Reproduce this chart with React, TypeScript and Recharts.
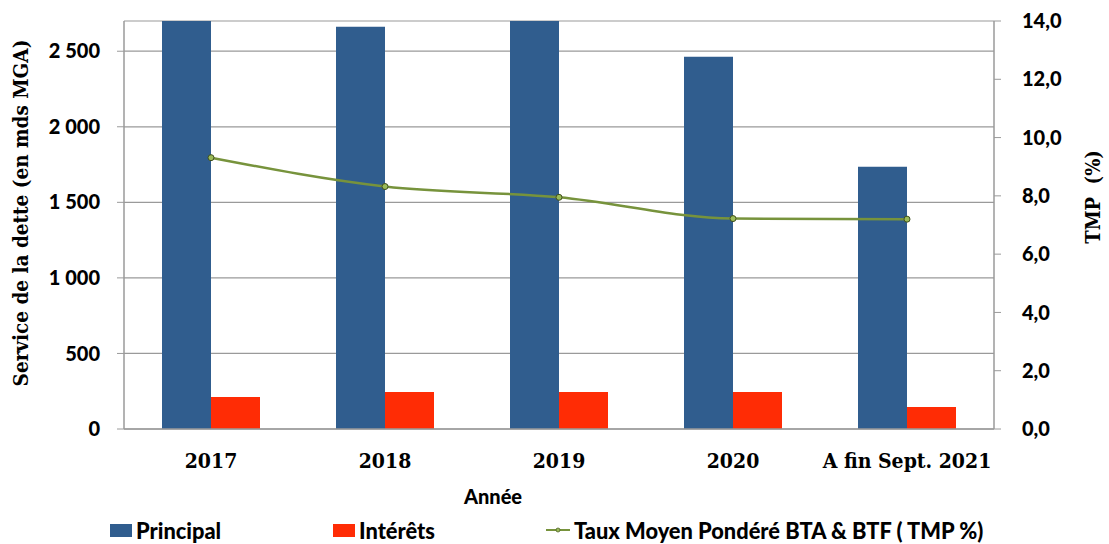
import React from 'react'
import { ComposedChart, Bar, Line, XAxis, YAxis, CartesianGrid, Legend, Label } from 'recharts'

const annees = ['2017', '2018', '2019', '2020', 'A fin Sept. 2021']
const principal = [2780, 2662, 2750, 2464, 1735]
const interets = [212, 245, 245, 245, 146]
const tmp = [9.31, 8.32, 7.95, 7.22, 7.2]
const ticksGauche = [0, 500, 1000, 1500, 2000, 2500]
const ticksDroite = [0, 2, 4, 6, 8, 10, 12, 14]

const data = annees.map((annee, i) => ({
  annee,
  principal: principal[i],
  interets: interets[i],
  tmp: tmp[i],
}))

const BLEU = '#305D8E'
const ROUGE = '#FF2C05'
const VERT = '#77933C'
const GRIS = '#9A9A9A'
const SANS = 'Lato, "Open Sans", sans-serif'
const SERIF = '"DejaVu Serif Condensed", "DejaVu Serif", serif'

const fmtGauche = (v: number) => (v >= 1000 ? `${Math.floor(v / 1000)} ${String(v % 1000).padStart(3, '0')}` : String(v))
const fmtDroite = (v: number) => v.toFixed(1).replace('.', ',')

function Legende() {
  const item = (left: number, icone: React.ReactNode, texte: string) => (
    <div style={{ position: 'absolute', left, top: 0, display: 'flex', alignItems: 'center', height: 28 }}>
      {icone}
      <span style={{ fontFamily: SANS, fontWeight: 900, fontSize: 21.8, color: '#000', marginLeft: 4 }}>{texte}</span>
    </div>
  )
  return (
    <div style={{ position: 'relative', width: 1109, height: 28 }}>
      {item(110, <div style={{ width: 22, height: 13, background: BLEU }} />, 'Principal')}
      {item(333, <div style={{ width: 22, height: 13, background: ROUGE }} />, 'Intérêts')}
      {item(
        546,
        <svg width={24} height={10}>
          <line x1={0} y1={5} x2={24} y2={5} stroke={VERT} strokeWidth={2} />
          <circle cx={12} cy={5} r={2} fill="#9BBB59" stroke="#4F6228" strokeWidth={0.8} />
        </svg>,
        'Taux Moyen Pondéré BTA & BTF ( TMP %)'
      )}
    </div>
  )
}

export default function App() {
  return (
    <div style={{ position: 'absolute', left: 0, top: 0, background: '#fff' }}>
      <ComposedChart
        width={1109}
        height={544}
        data={data}
        margin={{ top: 21, right: 0, left: 0, bottom: 0 }}
        barGap={0}
        barSize={49}
      >
        <CartesianGrid vertical={false} stroke={GRIS} strokeWidth={1.2} yAxisId="gauche" />
        <XAxis
          dataKey="annee"
          height={87}
          tickLine={false}
          axisLine={{ stroke: GRIS, strokeWidth: 1.5 }}
          tickMargin={18}
          tick={{ fontFamily: SERIF, fontWeight: 700, fontSize: 21, fill: '#000' }}
          interval={0}
        >
          <Label
            content={({ viewBox }: any) => (
              <text
                x={viewBox.x + viewBox.width / 2 - 66}
                y={viewBox.y + 75}
                textAnchor="middle"
                fontFamily={SANS}
                fontWeight={900}
                fontSize={20}
                fill="#000"
              >
                Année
              </text>
            )}
          />
        </XAxis>
        <YAxis
          yAxisId="gauche"
          width={124}
          domain={[0, 2700]}
          allowDataOverflow
          ticks={ticksGauche}
          tickFormatter={fmtGauche}
          tickSize={7}
          tickMargin={17}
          tickLine={{ stroke: GRIS }}
          axisLine={{ stroke: GRIS, strokeWidth: 1.5 }}
          tick={{ fontFamily: SANS, fontWeight: 900, fontSize: 20, fill: '#000' }}
        >
          <Label
            content={({ viewBox }: any) => {
              const cx = 21
              const cy = viewBox.y + viewBox.height / 2 - 12
              return (
                <text
                  x={cx}
                  y={cy}
                  transform={`rotate(-90 ${cx} ${cy})`}
                  textAnchor="middle"
                  dominantBaseline="central"
                  fontFamily={SERIF}
                  fontWeight={700}
                  fontSize={20.5}
                  fill="#000"
                >
                  Service de la dette (en mds MGA)
                </text>
              )
            }}
          />
        </YAxis>
        <YAxis
          yAxisId="droite"
          orientation="right"
          width={115}
          domain={[0, 14]}
          ticks={ticksDroite}
          tickFormatter={fmtDroite}
          tickSize={7}
          tickMargin={21}
          tickLine={{ stroke: GRIS }}
          axisLine={{ stroke: GRIS, strokeWidth: 1.5 }}
          tick={{ fontFamily: SANS, fontWeight: 900, fontSize: 20, fill: '#000' }}
        >
          <Label
            content={({ viewBox }: any) => {
              const cx = viewBox.x + 99
              const cy = viewBox.y + viewBox.height / 2 - 28
              return (
                <text
                  x={cx}
                  y={cy}
                  transform={`rotate(-90 ${cx} ${cy})`}
                  textAnchor="middle"
                  dominantBaseline="central"
                  fontFamily={SERIF}
                  fontWeight={700}
                  fontSize={20}
                  fill="#000"
                  style={{ whiteSpace: 'pre' }}
                >
                  {'TMP  (%)'}
                </text>
              )
            }}
          />
        </YAxis>
        <Bar yAxisId="gauche" dataKey="principal" name="Principal" fill={BLEU} isAnimationActive={false} />
        <Bar yAxisId="gauche" dataKey="interets" name="Intérêts" fill={ROUGE} isAnimationActive={false} />
        <Line
          yAxisId="droite"
          type="monotone"
          dataKey="tmp"
          name="Taux Moyen Pondéré BTA & BTF ( TMP %)"
          stroke={VERT}
          strokeWidth={2.5}
          dot={{ r: 3, fill: '#9BBB59', stroke: '#3F4F1E', strokeWidth: 1 }}
          isAnimationActive={false}
        />
        <Legend
          content={() => <Legende />}
          wrapperStyle={{ left: 0, top: 516, width: 1109, height: 28 }}
        />
      </ComposedChart>
    </div>
  )
}
